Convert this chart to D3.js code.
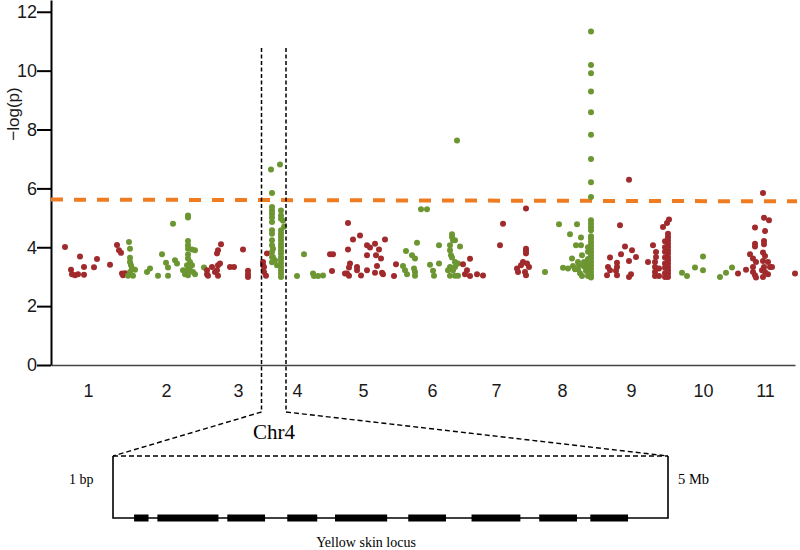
<!DOCTYPE html>
<html><head><meta charset="utf-8">
<script src="https://cdn.jsdelivr.net/npm/d3@7/dist/d3.min.js"></script>
<style>body{margin:0;background:#fff}svg{display:block}</style>
</head><body>
<svg id="c" width="800" height="550"></svg>
<script>
// ---------- data ----------
const chromLabels = ["1","2","3","4","5","6","7","8","9","10","11"];
const chromCenters = [37,115,187,246,312,381,445,511,580,652,714]; // genome-axis positions of labels
const yTicks = [0,2,4,6,8,10,12];
const thresholdStart = 5.62, thresholdEnd = 5.56;
const genomeLength = 744;

const chr1 = [[14,4.01],[29,3.69],[46,3.60],[33,3.33],[43,3.32],[59,3.41],[20,3.24],[21,3.08],[24,3.05],[27,3.08],[33,3.07],[66,4.08],[68,3.90],[70,3.81],[71,3.11],[72,3.05],[74,3.12]];
const chr2 = [[78,4.18],[79,3.95],[79,3.64],[79,3.50],[80,3.39],[81,3.28],[79,3.16],[84,3.24],[77,3.03],[82,3.03],[96,3.16],[99,3.28],[107,3.03],[111,3.76],[115,3.47],[117,3.31],[117,3.03],[122,4.80],[124,3.56],[126,3.45],[137,5.08],[137,5.01],[137,4.21],[137,4.07],[137,3.95],[141,3.92],[144,3.90],[137,3.62],[139,3.50],[136,3.39],[141,3.39],[132,3.22],[136,3.16],[139,3.22],[142,3.16],[134,3.08],[137,3.05],[144,3.08],[137,3.30],[137,3.75],[153,3.31]];
const chr3 = [[156,3.22],[156,3.08],[157,3.03],[161,3.33],[164,3.16],[166,3.79],[167,3.90],[170,4.10],[167,3.39],[166,3.22],[167,3.03],[169,3.45],[179,3.33],[183,3.33],[192,3.92],[197,3.20],[197,3.08],[197,2.99],[216,3.79],[212,3.50],[213,3.33],[213,3.16],[215,3.03],[212,3.40]];
const chr4 = [[220,6.64],[229,6.81],[221,5.84],[221,5.37],[221,5.25],[221,5.14],[221,5.01],[221,4.86],[221,4.58],[221,4.46],[221,4.24],[221,4.07],[221,3.84],[221,3.67],[221,3.49],[222,3.95],[230,5.25],[230,5.08],[230,4.97],[230,4.58],[230,4.46],[230,4.35],[230,4.24],[230,4.12],[230,4.01],[230,3.90],[230,3.79],[230,3.67],[230,3.56],[230,3.45],[230,3.33],[230,3.22],[230,3.11],[230,2.99],[224,3.56],[226,3.39],[222,3.67],[232,4.90],[233,4.70],[246,3.02],[253,3.76],[262,3.11],[263,3.02],[267,3.02],[272,3.04]];
const chr5 = [[279,3.76],[282,3.76],[281,3.19],[294,3.11],[297,4.82],[297,3.92],[299,3.45],[298,3.31],[296,3.11],[298,3.03],[302,4.26],[306,3.33],[306,3.22],[309,4.40],[310,3.04],[316,4.07],[319,3.99],[316,3.73],[316,3.22],[324,4.12],[325,3.73],[328,3.92],[330,3.62],[326,3.36],[324,3.13],[332,3.08],[334,4.26],[331,3.13],[345,3.42],[343,3.02]];
const chr6 = [[352,3.36],[354,3.22],[356,3.08],[355,3.87],[361,3.73],[364,3.62],[366,4.15],[363,3.28],[364,3.16],[364,3.03],[370,5.29],[376,5.29],[379,3.41],[382,3.20],[383,3.03],[388,4.07],[388,3.45],[401,4.44],[401,4.35],[402,4.24],[404,4.24],[399,4.07],[409,4.03],[399,3.90],[400,3.73],[401,3.65],[404,3.50],[407,3.45],[399,3.33],[404,3.33],[397,3.22],[402,3.22],[399,3.03],[404,3.03],[407,3.03],[406,7.63]];
const chr7 = [[412,3.42],[419,3.61],[416,3.22],[414,3.08],[419,3.02],[426,3.08],[432,3.04],[449,4.07],[452,4.80],[466,3.28],[467,3.16],[475,5.32],[475,3.95],[475,3.87],[475,3.79],[472,3.50],[476,3.45],[478,3.33],[474,3.16],[475,3.05],[470,3.39]];
const chr8 = [[494,3.16],[508,4.78],[512,3.30],[517,3.28],[519,4.44],[521,3.62],[522,3.36],[525,4.07],[526,4.78],[530,4.33],[530,4.07],[531,3.73],[527,3.50],[528,3.40],[527,3.25],[529,3.12],[531,3.02],[533,3.50],[533,3.35],[524,3.25],[535,3.20],
  [540,11.33],[540,10.19],[540,9.91],[540,9.29],[540,8.59],[540,7.82],[540,7.00],[540,6.21],[540,5.71],[540,4.92],[540,4.80],[540,4.69],[540,4.58],[540,4.37],[540,4.29],[540,4.18],[540,4.07],[540,3.95],[540,3.84],[540,3.73],[540,3.62],[540,3.50],[540,3.39],[540,3.28],[540,3.16],[540,3.05],[540,2.97],
  [537,4.00],[537,3.85],[537,3.60],[537,3.45],[537,3.30],[537,3.15],[537,3.02]];
const chr9 = [[578,6.29],[569,4.75],[574,4.03],[559,3.65],[570,3.76],[581,3.90],[585,3.67],[578,3.53],[566,3.47],[566,3.33],[565,3.20],[557,3.33],[559,3.22],[556,3.05],[566,3.05],[580,3.08],[578,2.99],[597,3.50],[602,4.07],[605,3.84],[605,3.67],[604,3.50],[604,3.33],[604,3.16],[604,3.02],[608,3.28],[608,3.02],[612,4.69],[616,4.82],[618,4.94],
  [617,4.46],[617,4.35],[617,4.24],[617,4.12],[617,4.01],[617,3.90],[617,3.79],[617,3.67],[617,3.56],[617,3.45],[617,3.33],[617,3.22],[617,3.11],[617,2.99],
  [614,4.20],[614,4.00],[614,3.85],[614,3.65],[614,3.45],[614,3.30],[614,3.12],[614,2.99]];
const chr10 = [[631,3.13],[636,3.02],[644,3.31],[652,3.69],[652,3.22],[669,2.99],[675,3.13],[681,3.31]];
const chr11 = [[687,3.11],[695,3.24],[699,3.76],[704,4.67],[704,4.12],[704,4.03],[702,3.62],[705,3.50],[702,3.33],[702,3.16],[704,3.05],[705,2.97],[712,5.84],[713,5.00],[718,4.92],[714,4.55],[713,4.21],[713,4.10],[712,3.82],[714,3.70],[712,3.53],[717,3.50],[713,3.33],[719,3.33],[711,3.22],[714,3.16],[717,3.08],[712,2.99],[721,3.33],[744,3.11]];

const chromosomes = [chr1,chr2,chr3,chr4,chr5,chr6,chr7,chr8,chr9,chr10,chr11];
const colors = ["#a02a2c","#6c9632"];

// zoomed locus (Chr4 window), in Mb
const regionStart = 210.5, regionEnd = 235;   // genome-axis window
const locusLength = 5;
const exons = [[0.19,0.32],[0.40,0.95],[1.03,1.37],[1.57,1.84],[2.00,2.47],[2.66,3.00],[3.23,3.67],[3.84,4.18],[4.30,4.64]];

// ---------- drawing ----------
const svg = d3.select("#c");
const sans = "'Liberation Sans', Arial, sans-serif";
const serif = "'Liberation Serif', 'Times New Roman', serif";

const x = d3.scaleLinear().domain([0, genomeLength]).range([51, 795]);
const y = d3.scaleLinear().domain([0, 12.4]).range([365, 0]);

// x axis
const xAxis = d3.axisBottom(x).tickValues(chromCenters)
  .tickFormat((d,i)=>chromLabels[i]).tickSize(0).tickPadding(19).tickSizeOuter(0);
const gx = svg.append("g").attr("transform","translate(0,365)").call(xAxis);
gx.select(".domain").attr("stroke","#444").attr("stroke-width",1.5);
gx.selectAll("text").attr("font-family",sans).attr("font-size",18).attr("fill","#1a1a1a");

// y axis
const yAxis = d3.axisLeft(y).tickValues(yTicks).tickSize(14).tickPadding(0).tickSizeOuter(0);
const gy = svg.append("g").attr("transform","translate(51,0)").call(yAxis);
gy.select(".domain").attr("stroke","#000").attr("stroke-width",2);
gy.selectAll(".tick line").attr("stroke","#000").attr("stroke-width",2);
gy.selectAll("text").attr("font-family",sans).attr("font-size",18).attr("fill","#1a1a1a");

svg.append("text").attr("transform","translate(19,114) rotate(-90)")
  .attr("text-anchor","middle").attr("font-family",sans).attr("font-size",17)
  .attr("fill","#1a1a1a").text("−log(p)");

// threshold
svg.append("line")
  .attr("x1",x(0)).attr("x2",x(genomeLength+2))
  .attr("y1",y(thresholdStart)).attr("y2",y(thresholdEnd))
  .attr("stroke","#f07c22").attr("stroke-width",4).attr("stroke-dasharray","12,11");

// points
chromosomes.forEach((pts,i)=>{
  svg.append("g").selectAll("circle").data(pts).join("circle")
    .attr("cx",d=>x(d[0])).attr("cy",d=>y(d[1])).attr("r",3)
    .attr("fill",colors[i%2]);
});

// region markers
const boxL = 113, boxR = 668, boxTop = 456, boxBot = 518, markBot = 412;
[regionStart, regionEnd].forEach(p=>{
  svg.append("line").attr("x1",x(p)).attr("x2",x(p)).attr("y1",y(10.77)).attr("y2",markBot)
    .attr("stroke","#000").attr("stroke-width",1.5).attr("stroke-dasharray","4,2.5");
});
svg.append("line").attr("x1",x(regionStart)).attr("y1",markBot).attr("x2",boxL).attr("y2",boxTop)
  .attr("stroke","#000").attr("stroke-width",1.4).attr("stroke-dasharray","5,3");
svg.append("line").attr("x1",x(regionEnd)).attr("y1",markBot).attr("x2",boxR).attr("y2",boxTop)
  .attr("stroke","#000").attr("stroke-width",1.4).attr("stroke-dasharray","5,3");
svg.append("line").attr("x1",boxL).attr("y1",boxTop).attr("x2",boxR).attr("y2",boxTop)
  .attr("stroke","#000").attr("stroke-width",1.4).attr("stroke-dasharray","5,3");
svg.append("path").attr("d",`M${boxL},${boxTop}V${boxBot}H${boxR}V${boxTop}`)
  .attr("fill","none").attr("stroke","#000").attr("stroke-width",1.6);

const lx = d3.scaleLinear().domain([0, locusLength]).range([boxL, boxR]);
svg.append("g").selectAll("rect").data(exons).join("rect")
  .attr("x",d=>lx(d[0])).attr("width",d=>lx(d[1])-lx(d[0]))
  .attr("y",boxBot-3.5).attr("height",7).attr("fill","#000");

svg.append("text").attr("x",274).attr("y",439).attr("text-anchor","middle")
  .attr("font-family",serif).attr("font-size",21).text("Chr4");
svg.append("text").attr("x",69).attr("y",484)
  .attr("font-family",serif).attr("font-size",14).text("1 bp");
svg.append("text").attr("x",678).attr("y",484)
  .attr("font-family",serif).attr("font-size",14.5).text("5 Mb");
svg.append("text").attr("x",366).attr("y",547).attr("text-anchor","middle")
  .attr("font-family",serif).attr("font-size",14).text("Yellow skin locus");
</script>
</body></html>
